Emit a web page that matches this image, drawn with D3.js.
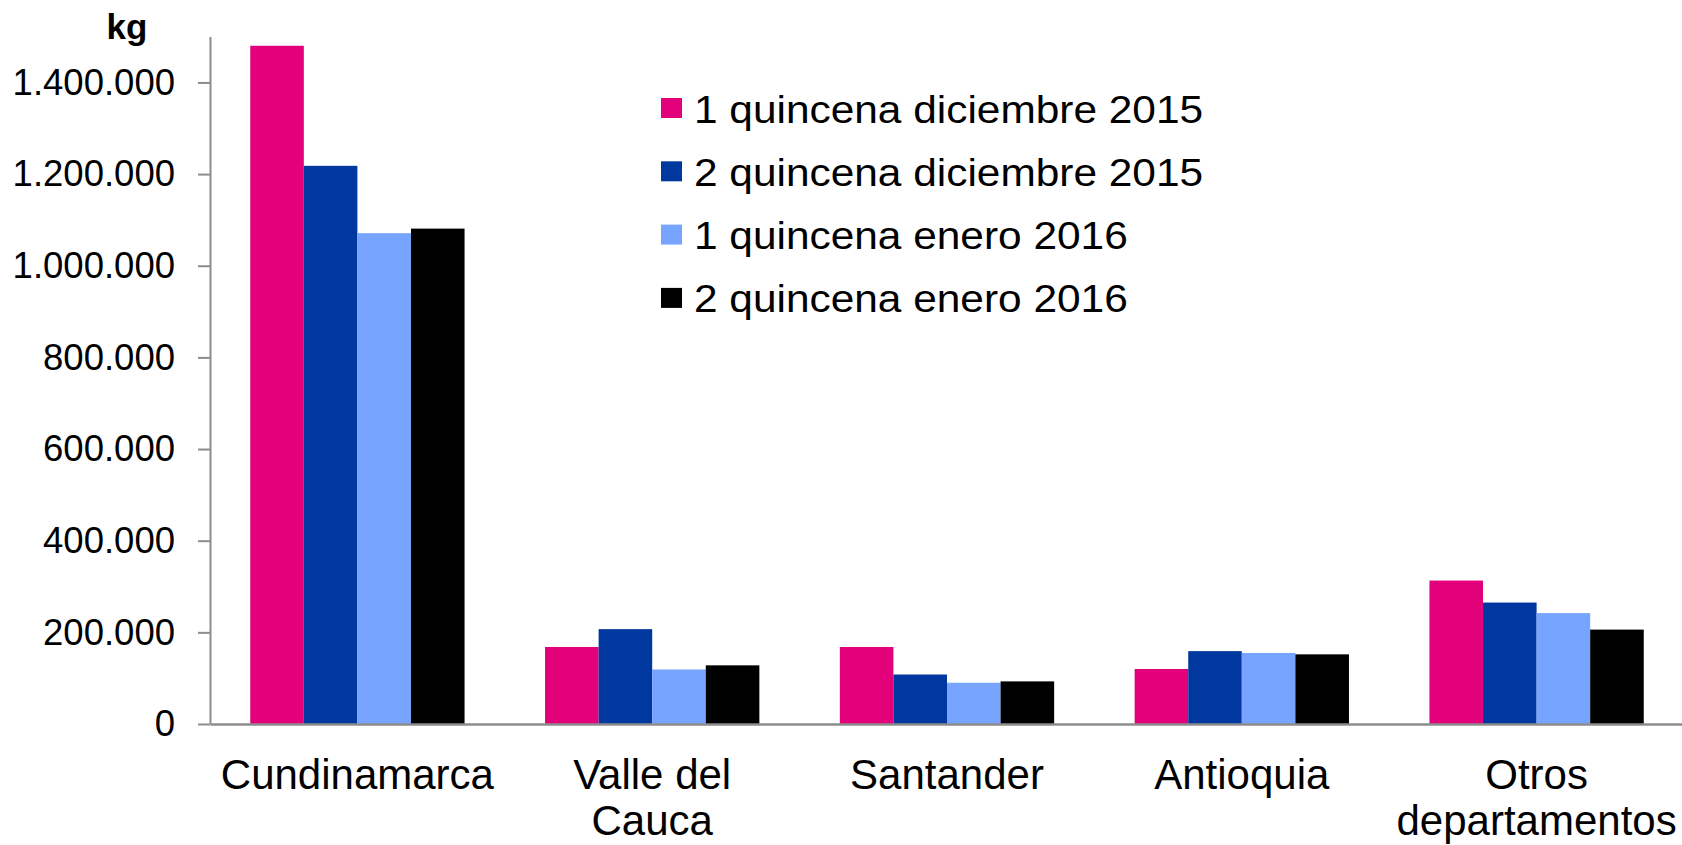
<!DOCTYPE html>
<html>
<head>
<meta charset="utf-8">
<script src="https://cdn.jsdelivr.net/npm/d3@7"></script>
<style>
body { margin: 0; background: #fff; }
svg { display: block; font-family: Arial, "Liberation Sans", sans-serif; }
</style>
</head>
<body>
<svg id="chart" width="1682" height="845"></svg>
<script>
// data (kg)
const departamentos = ["Cundinamarca", "Valle del Cauca", "Santander", "Antioquia", "Otros departamentos"];
const etiquetas = [["Cundinamarca"], ["Valle del", "Cauca"], ["Santander"], ["Antioquia"], ["Otros", "departamentos"]];
const series = ["1 quincena diciembre 2015", "2 quincena diciembre 2015", "1 quincena enero 2016", "2 quincena enero 2016"];
const q1Dic2015 = [1480000, 168000, 168000, 120000, 313000];
const q2Dic2015 = [1218000, 207000, 108000, 159000, 265000];
const q1Ene2016 = [1071000, 119000, 90000, 155000, 242000];
const q2Ene2016 = [1081000, 128000, 93000, 152000, 206000];
const yTicks = [0, 200000, 400000, 600000, 800000, 1000000, 1200000, 1400000];
const colores = ["#e3007b", "#00389f", "#76a4ff", "#000000"];

const values = [q1Dic2015, q2Dic2015, q1Ene2016, q2Ene2016];
const rows = departamentos.map((d, i) => ({ dep: d, vals: values.map(v => v[i]) }));

const svg = d3.select("#chart");
const axisColor = "#8c8c8c";

const x = d3.scaleBand()
  .domain(departamentos)
  .range([210, 1684])
  .paddingInner(0.273)
  .paddingOuter(0.1365);

const xs = d3.scaleBand()
  .domain(series)
  .range([0, x.bandwidth()]);

const y = d3.scaleLinear()
  .domain([0, 1500000])
  .range([724, 36.6]);

const color = d3.scaleOrdinal().domain(series).range(colores);

const es = d3.formatLocale({ decimal: ",", thousands: ".", grouping: [3], currency: ["$", ""] });
const fmt = es.format(",");

// bars
const groups = svg.append("g")
  .selectAll("g")
  .data(rows)
  .join("g")
  .attr("transform", d => `translate(${x(d.dep)},0)`);

groups.selectAll("rect")
  .data(d => d.vals.map((v, i) => ({ s: series[i], v: v })))
  .join("rect")
  .attr("x", d => xs(d.s))
  .attr("y", d => y(d.v))
  .attr("width", xs.bandwidth())
  .attr("height", d => y(0) - y(d.v))
  .attr("fill", d => color(d.s));

// y axis
const yAxis = svg.append("g")
  .attr("transform", "translate(210,0)")
  .call(d3.axisLeft(y).tickValues(yTicks).tickFormat(fmt).tickSize(12).tickSizeOuter(0).tickPadding(23));
yAxis.select(".domain").attr("stroke", axisColor).attr("stroke-width", 2);
yAxis.selectAll(".tick line").attr("stroke", axisColor).attr("stroke-width", 2);
yAxis.selectAll(".tick text")
  .attr("font-size", "36.5px")
  .attr("fill", "#000")
  .attr("font-family", "Arial, 'Liberation Sans', sans-serif");

// x axis
const xAxis = svg.append("g")
  .attr("transform", `translate(0,${y(0)})`)
  .call(d3.axisBottom(x).tickSize(0).tickFormat(""));
xAxis.select(".domain").attr("stroke", axisColor).attr("stroke-width", 2.5);

xAxis.selectAll(".tick")
  .append("text")
  .attr("fill", "#000")
  .attr("text-anchor", "middle")
  .attr("font-size", "42px")
  .attr("font-family", "Arial, 'Liberation Sans', sans-serif")
  .selectAll("tspan")
  .data((d, i) => etiquetas[i])
  .join("tspan")
  .attr("x", 0)
  .attr("y", (d, i) => 65 + i * 46)
  .text(d => d);

// unit label
svg.append("text")
  .attr("x", 127)
  .attr("y", 39)
  .attr("text-anchor", "middle")
  .attr("font-size", "35px")
  .attr("font-weight", "bold")
  .text("kg");

// legend
const legend = svg.append("g").attr("transform", "translate(661,108.5)");
const items = legend.selectAll("g")
  .data(series)
  .join("g")
  .attr("transform", (d, i) => `translate(0,${i * 63.3})`);

items.append("rect")
  .attr("x", 0)
  .attr("y", -10.5)
  .attr("width", 21)
  .attr("height", 20)
  .attr("fill", d => color(d));

items.append("text")
  .attr("transform", "translate(33,14) scale(1.116,1)")
  .attr("font-size", "38px")
  .attr("fill", "#000")
  .text(d => d);
</script>
</body>
</html>
